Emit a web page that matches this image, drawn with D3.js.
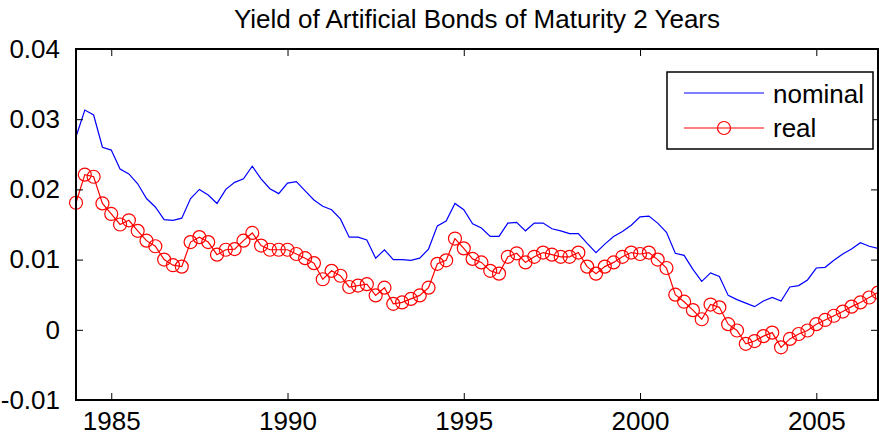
<!DOCTYPE html>
<html>
<head>
<meta charset="utf-8">
<script src="https://cdn.jsdelivr.net/npm/d3@7"></script>
<style>
  html, body { margin: 0; padding: 0; background: #fff; }
  svg { display: block; }
  text { font-family: "Liberation Sans", Arial, Helvetica, sans-serif; fill: #000; }
</style>
</head>
<body>
<svg id="chart" width="879" height="439"></svg>
<script>
// Quarterly observations, 1984Q1 .. 2006Q4
const startYear = 1984;
const periodsPerYear = 4;

const nominal = [
  0.0275, 0.0313, 0.0306, 0.0260, 0.0256, 0.0229, 0.0222, 0.0208, 0.0187, 0.0175,
  0.0157, 0.0156, 0.0159, 0.0187, 0.0200, 0.0192, 0.0180, 0.0200, 0.0210, 0.0215,
  0.0233, 0.0215, 0.0201, 0.0194, 0.0209, 0.0211, 0.0198, 0.0185, 0.0176, 0.0171,
  0.0158, 0.0132, 0.0132, 0.0128, 0.0102, 0.0114, 0.0100, 0.0100, 0.0099, 0.0102,
  0.0115, 0.0148, 0.0155, 0.0180, 0.0171, 0.0151, 0.0145, 0.0133, 0.0133, 0.0152,
  0.0153, 0.0141, 0.0152, 0.0152, 0.0144, 0.0141, 0.0137, 0.0137, 0.0123, 0.0110,
  0.0122, 0.0133, 0.0140, 0.0149, 0.0161, 0.0162, 0.0152, 0.0139, 0.0109, 0.0106,
  0.0086, 0.0069, 0.0081, 0.0076, 0.0049, 0.0043, 0.0038, 0.0033, 0.0041, 0.0046,
  0.0041, 0.0061, 0.0063, 0.0071, 0.0088, 0.0089, 0.0099, 0.0108, 0.0115, 0.0124,
  0.0119, 0.0116
];

const real = [
  0.0181, 0.0221, 0.0218, 0.0180, 0.0165, 0.0150, 0.0156, 0.0141, 0.0127, 0.0119,
  0.0100, 0.0092, 0.0090, 0.0125, 0.0132, 0.0125, 0.0107, 0.0114, 0.0115, 0.0127,
  0.0138, 0.0120, 0.0114, 0.0114, 0.0114, 0.0108, 0.0102, 0.0095, 0.0072, 0.0084,
  0.0077, 0.0061, 0.0063, 0.0065, 0.0049, 0.0060, 0.0037, 0.0039, 0.0044, 0.0049,
  0.0060, 0.0094, 0.0099, 0.0130, 0.0116, 0.0101, 0.0096, 0.0084, 0.0080, 0.0104,
  0.0109, 0.0096, 0.0104, 0.0110, 0.0107, 0.0104, 0.0104, 0.0110, 0.0090, 0.0080,
  0.0090, 0.0096, 0.0104, 0.0110, 0.0108, 0.0110, 0.0100, 0.0088, 0.0050, 0.0040,
  0.0028, 0.0015, 0.0036, 0.0032, 0.0008, -0.0001, -0.0020, -0.0016, -0.0009, -0.0004,
  -0.0025, -0.0013, -0.0006, -0.0001, 0.0008, 0.0014, 0.0020, 0.0026, 0.0033, 0.0039,
  0.0046, 0.0053
];

const xTickValues = [1985, 1990, 1995, 2000, 2005];
const xTickLabels = ["1985", "1990", "1995", "2000", "2005"];
const yTickValues = [-0.01, 0, 0.01, 0.02, 0.03, 0.04];
const yTickLabels = ["-0.01", "0", "0.01", "0.02", "0.03", "0.04"];

const titleText = "Yield of Artificial Bonds of Maturity 2 Years";
const seriesNames = ["nominal", "real"];

const times = nominal.map((_, i) => startYear + i / periodsPerYear);

const margin = { left: 76, right: 878, top: 49, bottom: 400 };
const svg = d3.select("#chart");

const x = d3.scaleLinear()
  .domain([startYear, times[times.length - 1]])
  .range([margin.left, margin.right]);
const y = d3.scaleLinear()
  .domain([-0.01, 0.04])
  .range([margin.bottom, margin.top]);

const fontSize = 26;
const tickLen = 7;
const markerR = 6.5;

// Lines
const line = d3.line().x((d, i) => x(times[i])).y(d => y(d));

svg.append("path")
  .datum(nominal)
  .attr("d", line)
  .attr("fill", "none")
  .attr("stroke", "#0000ff")
  .attr("stroke-width", 1.2);

svg.append("path")
  .datum(real)
  .attr("d", line)
  .attr("fill", "none")
  .attr("stroke", "#ff0000")
  .attr("stroke-width", 1.2);

svg.append("g").selectAll("circle")
  .data(real)
  .join("circle")
  .attr("cx", (d, i) => x(times[i]))
  .attr("cy", d => y(d))
  .attr("r", markerR)
  .attr("fill", "none")
  .attr("stroke", "#ff0000")
  .attr("stroke-width", 1.2);

// Axes: bottom/top/left/right with inward ticks
const axisBottom = d3.axisBottom(x).tickValues(xTickValues)
  .tickFormat((d, i) => xTickLabels[i]).tickSizeInner(-tickLen).tickSizeOuter(0).tickPadding(tickLen + 5);
const axisTop = d3.axisTop(x).tickValues(xTickValues)
  .tickFormat("").tickSizeInner(-tickLen).tickSizeOuter(0);
const axisLeft = d3.axisLeft(y).tickValues(yTickValues)
  .tickFormat((d, i) => yTickLabels[i]).tickSizeInner(-tickLen).tickSizeOuter(0).tickPadding(tickLen + 9);
const axisRight = d3.axisRight(y).tickValues(yTickValues)
  .tickFormat("").tickSizeInner(-tickLen).tickSizeOuter(0);

function styleAxis(g) {
  g.select(".domain").remove();
  g.selectAll(".tick line").attr("stroke", "#000").attr("stroke-width", 1);
  g.selectAll(".tick text")
    .style("font-family", '"Liberation Sans", Arial, sans-serif')
    .style("font-size", fontSize + "px")
    .attr("fill", "#000");
}

svg.append("g").attr("transform", `translate(0,${margin.bottom})`).call(axisBottom).call(styleAxis);
svg.append("g").attr("transform", `translate(0,${margin.top})`).call(axisTop).call(styleAxis);
svg.append("g").attr("transform", `translate(${margin.left},0)`).call(axisLeft).call(styleAxis);
svg.append("g").attr("transform", `translate(${margin.right},0)`).call(axisRight).call(styleAxis);

// Axes box
svg.append("rect")
  .attr("x", margin.left)
  .attr("y", margin.top)
  .attr("width", margin.right - margin.left)
  .attr("height", margin.bottom - margin.top)
  .attr("fill", "none")
  .attr("stroke", "#000")
  .attr("stroke-width", 2);

// Title
svg.append("text")
  .attr("x", (margin.left + margin.right) / 2)
  .attr("y", 28)
  .attr("text-anchor", "middle")
  .style("font-size", fontSize + "px")
  .text(titleText);

// Legend
const legend = svg.append("g");
legend.append("rect")
  .attr("x", 667).attr("y", 72)
  .attr("width", 206).attr("height", 77)
  .attr("fill", "#fff")
  .attr("stroke", "#000")
  .attr("stroke-width", 1.5);

legend.append("line")
  .attr("x1", 684).attr("x2", 764).attr("y1", 93).attr("y2", 93)
  .attr("stroke", "#0000ff").attr("stroke-width", 1.2);
legend.append("line")
  .attr("x1", 684).attr("x2", 764).attr("y1", 128).attr("y2", 128)
  .attr("stroke", "#ff0000").attr("stroke-width", 1.2);
legend.append("circle")
  .attr("cx", 724).attr("cy", 128).attr("r", markerR)
  .attr("fill", "none").attr("stroke", "#ff0000").attr("stroke-width", 1.2);

legend.append("text").attr("x", 773).attr("y", 103)
  .style("font-size", fontSize + "px").text(seriesNames[0]);
legend.append("text").attr("x", 773).attr("y", 137)
  .style("font-size", fontSize + "px").text(seriesNames[1]);
</script>
</body>
</html>
